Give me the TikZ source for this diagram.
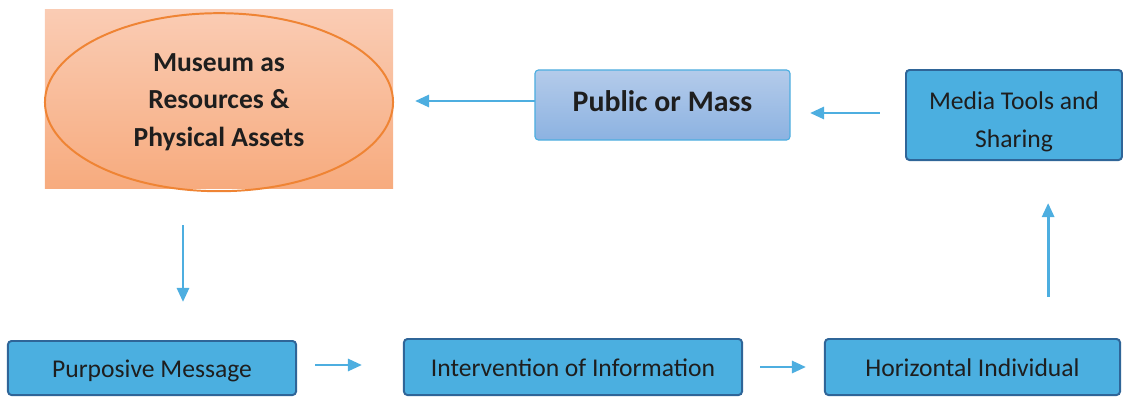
\documentclass[tikz,border=0pt]{standalone}
\usepackage{fontspec}
\setmainfont{Carlito}
\usepackage{xcolor}
\usepackage{tikz}
\usetikzlibrary{shapes, positioning, arrows.meta}

\definecolor{boxblue}{HTML}{4BAFE0}
\definecolor{rimblue}{HTML}{2F6598}
\definecolor{flowblue}{HTML}{4DAEE0}
\definecolor{peachtop}{HTML}{FACCB4}
\definecolor{peachbot}{HTML}{F7AB7E}
\definecolor{rimorange}{HTML}{EF8434}
\definecolor{skytop}{HTML}{B4CBEA}
\definecolor{skybot}{HTML}{8CB2E1}
\definecolor{textgray}{HTML}{1E1E1E}

\begin{document}
\begin{tikzpicture}[x=0.025cm, y=-0.025cm, outer sep=0pt,
    stage/.style={rectangle, rounded corners=2.5pt, draw=rimblue, line width=1.4pt, fill=boxblue, text=textgray, font=\fontsize{18.2}{27}\selectfont, text height=18pt, text depth=4pt},
    flow/.style={draw=flowblue, line width=2pt, -{Triangle[length=0.35cm,width=0.3cm]}}]
    \useasboundingbox (0,0) rectangle (1123,396);

    % Museum
    \node[rectangle, top color=peachtop, bottom color=peachbot, minimum width=8.7cm, minimum height=4.45cm] (museum) at (219,99) {};
    \node[ellipse, draw=rimorange, line width=1.4pt, minimum width=8.7cm, minimum height=4.45cm, inner sep=0pt, align=center, text=textgray, font=\bfseries\fontsize{19.6}{26.5}\selectfont] (museumrim) at ([yshift=-0.08cm]museum.center) {Museum as\\Resources \&\\Physical Assets};

    % Publikum
    \node[rectangle, rounded corners=2.5pt, draw=flowblue, line width=0.8pt, top color=skytop, bottom color=skybot, minimum width=6.375cm, minimum height=1.75cm, text=textgray, font=\bfseries\fontsize{21.2}{24}\selectfont, text depth=5pt] (public) at (662.5,105) {Public or Mass};

    % Medien
    \node[stage, minimum width=5.4cm, minimum height=2.25cm, text height=, text depth=, align=center] (media) at (1014,115) {\rule{0pt}{22pt}Media Tools and\\Sharing};

    % untere Reihe
    \node[stage, minimum width=7.2cm, minimum height=1.35cm] (purposive) at (152,368) {Purposive Message};
    \node[stage, minimum width=8.45cm, minimum height=1.4cm] (intervention) at (573,367) {Intervention of Information};
    \node[stage, minimum width=7.375cm, minimum height=1.4cm] (horizontal) at (972.5,367) {Horizontal Individual};

    % Pfeile
    \draw[flow, shorten >=0.55cm] ([yshift=0.1cm]public.west) -- ([yshift=0.1cm]public.west -| museum.east);
    \draw[flow, shorten <=0.65cm, shorten >=0.5cm] ([yshift=0.05cm]media.west) -- ([yshift=0.05cm]media.west -| public.east);
    \draw[flow, shorten <=0.925cm, shorten >=0.975cm] ([xshift=-0.9cm]museum.south) -- ([xshift=-0.9cm]museum.south |- purposive.north);
    \draw[flow, shorten <=0.475cm, shorten >=1.05cm] ([yshift=0.075cm]purposive.east) -- ([yshift=0.075cm]purposive.east -| intervention.west);
    \draw[flow, shorten <=0.45cm, shorten >=0.475cm] (intervention.east) -- (horizontal.west);
    \draw[flow, shorten <=1.05cm, shorten >=1.075cm] ([xshift=1.89cm]horizontal.north) -- ([xshift=1.89cm]horizontal.north |- media.south);
  \end{tikzpicture}
\end{document}
